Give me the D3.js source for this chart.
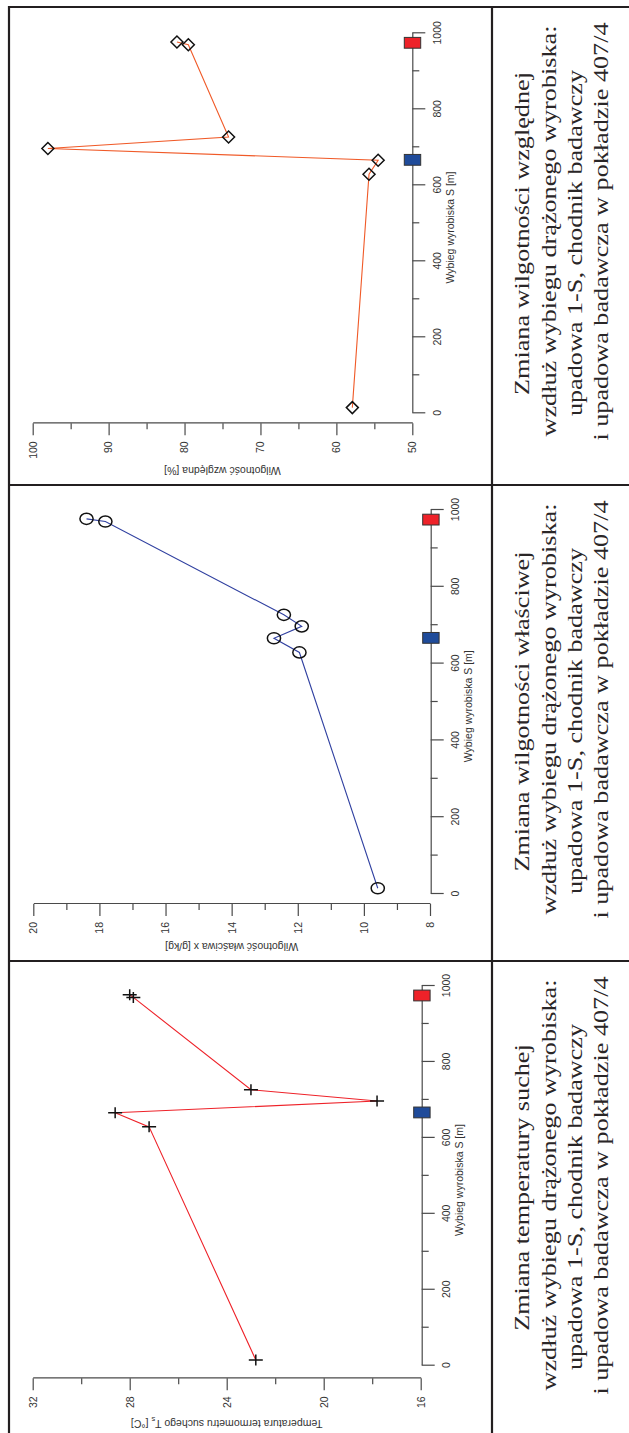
<!DOCTYPE html>
<html><head><meta charset="utf-8">
<script src="https://cdn.jsdelivr.net/npm/d3@7"></script>
<style>html,body{margin:0;padding:0;background:#fff;} svg{display:block;}</style>
</head><body>
<script>
// ---- data ----
const distanceS = [15, 629, 666, 697, 727, 970, 977];
const relHumidity = [57.9, 55.7, 54.5, 98.0, 74.2, 79.5, 81.0];
const specHumidity = [9.58, 11.95, 12.72, 11.88, 12.42, 17.82, 18.39];
const dryTemp = [22.8, 27.2, 28.6, 17.8, 23.0, 27.85, 28.0];
const stationS = [667, 975];
const stationKind = ["start", "end"];
const sTicks = [0, 200, 400, 600, 800, 1000];
const sMinorTicks = [100, 300, 500, 700, 900];
const rhTicks = [50, 60, 70, 80, 90, 100];
const rhMinorTicks = [55, 65, 75, 85, 95];
const xTicks = [8, 10, 12, 14, 16, 18, 20];
const xMinorTicks = [9, 11, 13, 15, 17, 19];
const tTicks = [16, 20, 24, 28, 32];
const tMinorTicks = [18, 22, 26, 30];
const sTitle = "Wybieg wyrobiska S [m]";
const rhTitle = "Wilgotność względna [%]";
const xTitle = "Wilgotność właściwa x [g/kg]";
const tTitleMain = "Temperatura termometru suchego T";
const tTitleSub = "s";
const tTitleEnd = " [°C]";
const captionFirst = ["Zmiana wilgotności względnej", "Zmiana wilgotności właściwej", "Zmiana temperatury suchej"];
const captionRest = ["wzdłuż wybiegu drążonego wyrobiska:", "upadowa 1-S, chodnik badawczy", "i upadowa badawcza w pokładzie 407/4"];

// ---- drawing ----
const W = 629, H = 1433;
const svg = d3.select("body").append("svg").attr("width", W).attr("height", H);
const sans = "'Liberation Sans', Arial, sans-serif";
const serif = "'Liberation Serif', 'Times New Roman', serif";
const axisCol = "#4a4a4a", textCol = "#333";
const fmt = d3.format("d");

// frame (table)
const frameCol = "#231f20";
const frame = svg.append("g").attr("stroke", frameCol).attr("stroke-width", 2.2);
frame.append("line").attr("x1", 8).attr("x2", W).attr("y1", 7).attr("y2", 7);
frame.append("line").attr("x1", 9).attr("x2", 9).attr("y1", 6).attr("y2", H);
frame.append("line").attr("x1", 492).attr("x2", 492).attr("y1", 6).attr("y2", H);
frame.append("line").attr("x1", 8).attr("x2", W).attr("y1", 485).attr("y2", 485);
frame.append("line").attr("x1", 8).attr("x2", W).attr("y1", 961).attr("y2", 961);

const panels = [
  {values: relHumidity, domain: [50, 100], ticks: rhTicks, minor: rhMinorTicks, marker: "diamond", color: "#f05a28",
   sAxisX: 412.3, s0Y: 413.3, s1000Y: 33.3, valAxisY: 423.3, valMinX: 412.3, valMaxX: 32.7, titleOff: 47, cellTop: 7},
  {values: specHumidity, domain: [8, 20], ticks: xTicks, minor: xMinorTicks, marker: "circle", color: "#3040a0",
   sAxisX: 430.7, s0Y: 894, s1000Y: 510, valAxisY: 904, valMinX: 430, valMaxX: 33.3, titleOff: 43, cellTop: 485},
  {values: dryTemp, domain: [16, 32], ticks: tTicks, minor: tMinorTicks, marker: "cross", color: "#ee2229",
   sAxisX: 421.7, s0Y: 1365.7, s1000Y: 986, valAxisY: 1378.3, valMinX: 420.7, valMaxX: 32.7, titleOff: 45, cellTop: 961}
];

function styleAxis(sel) {
  sel.attr("font-family", sans).attr("font-size", 10.5);
  sel.selectAll("path.domain").attr("stroke", axisCol).attr("stroke-width", 1.2);
  sel.selectAll(".tick line").attr("stroke", axisCol).attr("stroke-width", 1.2);
  sel.selectAll(".tick text").attr("fill", textCol);
}

panels.forEach((p, i) => {
  const g = svg.append("g").attr("transform", `translate(0,${p.s0Y}) rotate(-90)`);
  const xS = d3.scaleLinear().domain([0, 1000]).range([0, p.s0Y - p.s1000Y]);
  const yS = d3.scaleLinear().domain(p.domain).range([p.valMinX, p.valMaxX]);

  // S axis (bottom in native frame)
  const xa = g.append("g").attr("transform", `translate(0,${p.sAxisX})`);
  xa.call(d3.axisBottom(xS).tickValues(sTicks).tickFormat(fmt).tickSize(13).tickSizeOuter(0).tickPadding(8));
  xa.append("g").call(d3.axisBottom(xS).tickValues(sMinorTicks).tickSize(7).tickFormat(""))
    .select(".domain").remove();
  styleAxis(xa);
  xa.append("text").attr("x", xS(489)).attr("y", 38).attr("dy", "0.35em")
    .attr("text-anchor", "middle").attr("fill", textCol).attr("font-size", 10.5).text(sTitle);

  // value axis (left in native frame)
  const yAxisU = p.s0Y - p.valAxisY;
  const ya = g.append("g").attr("transform", `translate(${yAxisU},0)`);
  ya.call(d3.axisLeft(yS).tickValues(p.ticks).tickFormat(fmt).tickSize(12).tickSizeOuter(0).tickPadding(6));
  ya.append("g").call(d3.axisLeft(yS).tickValues(p.minor).tickSize(6).tickFormat(""))
    .select(".domain").remove();
  styleAxis(ya);
  const mid = (p.valMinX + p.valMaxX) / 2;
  const yt = ya.append("text").attr("transform", `translate(${-p.titleOff},${mid}) rotate(-90)`)
    .attr("dy", "0.35em").attr("text-anchor", "middle").attr("fill", textCol).attr("font-size", 10.5);
  if (i === 0) yt.text(rhTitle);
  else if (i === 1) yt.text(xTitle);
  else {
    yt.append("tspan").text(tTitleMain);
    yt.append("tspan").attr("font-size", 7.5).attr("dy", 3).text(tTitleSub);
    yt.append("tspan").attr("dy", -3).text(tTitleEnd);
  }

  // stations on the S axis
  g.selectAll("rect.station").data(stationS).join("rect").attr("class", "station")
    .attr("x", d => xS(d) - 5.4).attr("width", 10.8)
    .attr("y", p.sAxisX - 8).attr("height", 16.4)
    .attr("fill", (d, k) => stationKind[k] === "start" ? "#1f4b9a" : "#ee2229")
    .attr("stroke", "#333").attr("stroke-width", 1);

  // series line
  const pts = distanceS.map((s, k) => ({s, v: p.values[k]}));
  g.append("path").datum(pts)
    .attr("d", d3.line().x(d => xS(d.s)).y(d => yS(d.v)))
    .attr("fill", "none").attr("stroke", p.color).attr("stroke-width", 1.1);

  // markers
  const mk = g.selectAll("g.mk").data(pts).join("g").attr("class", "mk")
    .attr("transform", d => `translate(${xS(d.s)},${yS(d.v)})`);
  if (p.marker === "diamond") {
    mk.append("path").attr("d", "M0,-6L6,0L0,6L-6,0Z").attr("fill", "none")
      .attr("stroke", "#111").attr("stroke-width", 1.5);
  } else if (p.marker === "circle") {
    mk.append("ellipse").attr("rx", 5.6).attr("ry", 6.6).attr("fill", "none")
      .attr("stroke", "#111").attr("stroke-width", 1.5);
  } else {
    mk.append("path").attr("d", "M-5.5,0H5.5M0,-7V7").attr("fill", "none")
      .attr("stroke", "#111").attr("stroke-width", 1.5);
  }

  // caption cell
  const lines = [captionFirst[i]].concat(captionRest);
  const baseX = [529, 555.5, 582, 608];
  const centerOff = [226.5, 224, 236, 224.5];
  lines.forEach((t, k) => {
    svg.append("text")
      .attr("transform", `translate(${baseX[k]},${p.cellTop + centerOff[k]}) rotate(-90) scale(1.31,1)`)
      .attr("text-anchor", "middle").attr("font-family", serif).attr("font-size", 20)
      .attr("fill", "#2a2627").text(t);
  });
});
</script>
</body></html>
